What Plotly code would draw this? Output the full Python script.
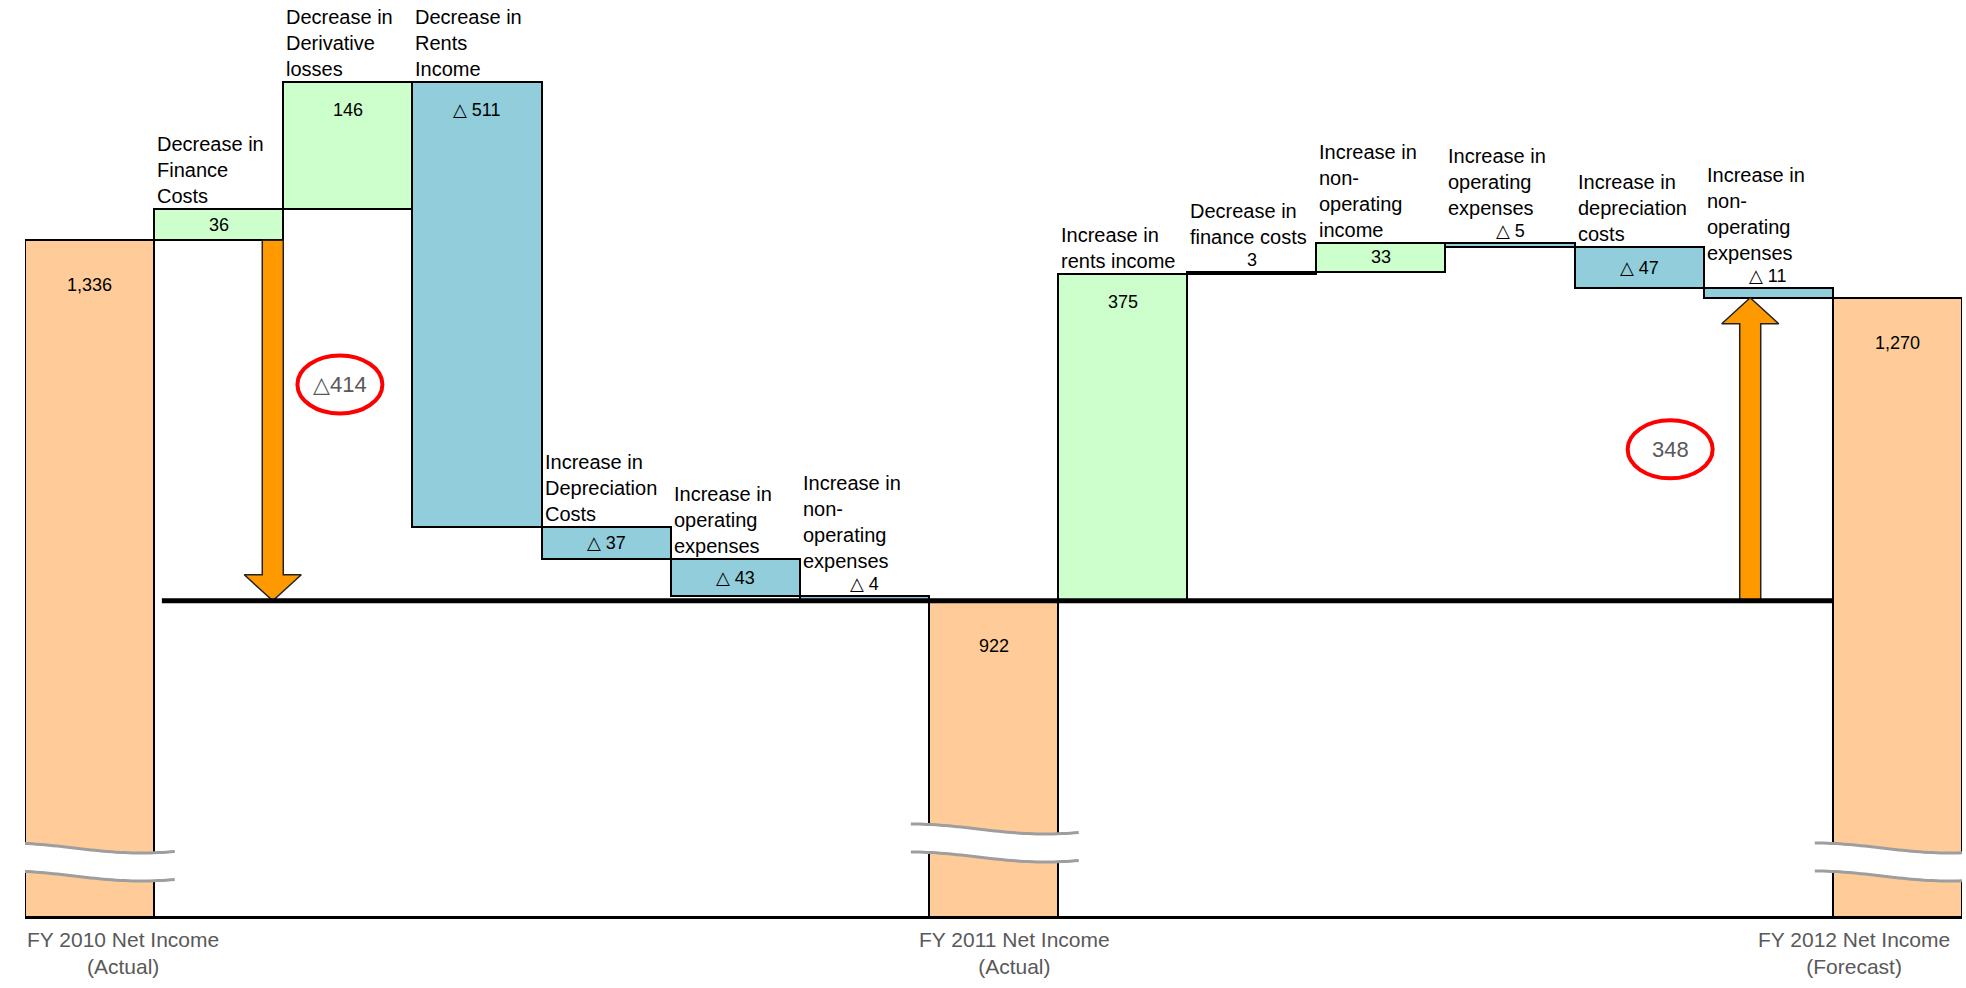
import numpy as np
import plotly.graph_objects as go

# ---------------- data ----------------
total_labels = ["FY 2010 Net Income<br>(Actual)",
                "FY 2011 Net Income<br>(Actual)",
                "FY 2012 Net Income<br>(Forecast)"]
total_values = [1336, 922, 1270]

left_step_labels = ["Decrease in<br>Finance<br>Costs",
                    "Decrease in<br>Derivative<br>losses",
                    "Decrease in<br>Rents<br>Income",
                    "Increase in<br>Depreciation<br>Costs",
                    "Increase in<br>operating<br>expenses",
                    "Increase in<br>non-<br>operating<br>expenses"]
left_step_values = [36, 146, -511, -37, -43, -4]

right_step_labels = ["Increase in<br>rents income",
                     "Decrease in<br>finance costs",
                     "Increase in<br>non-<br>operating<br>income",
                     "Increase in<br>operating<br>expenses",
                     "Increase in<br>depreciation<br>costs",
                     "Increase in<br>non-<br>operating<br>expenses"]
right_step_values = [375, 3, 33, -5, -47, -11]

# ---------------- styling / layout constants ----------------
W, H = 1966, 988
M_L, M_R, M_T, M_B = 25, 4, 0, 72
YMIN, YMAX = 560, 1612
FONT = "Liberation Sans, Arial, DejaVu Sans, sans-serif"
C_TOTAL, C_UP, C_DOWN = "#FFCC99", "#CCFFCC", "#92CDDC"
C_ARROW = "#FF9900"
TRI = "<b>\u25B3</b>"

# ---------------- build the waterfall sequence ----------------
kinds, vals, names = [], [], []
segments = [(left_step_labels, left_step_values), (right_step_labels, right_step_values), None]
for ti, tv in enumerate(total_values):
    kinds.append("total"); vals.append(tv); names.append(total_labels[ti])
    if segments[ti] is not None:
        for lab, v in zip(*segments[ti]):
            kinds.append("step"); vals.append(v); names.append(lab)

n = len(vals)
xs = list(range(n))
base, height = [], []
level = 0
for k, v in zip(kinds, vals):
    if k == "total":
        base.append(0); height.append(v); level = v
    else:
        base.append(level); height.append(v); level += v

colors = [C_TOTAL if k == "total" else (C_UP if v > 0 else C_DOWN) for k, v in zip(kinds, vals)]

def fmt(k, v):
    if k == "total":
        return f"{v:,}"
    return f"{v}" if v > 0 else f"{TRI} {abs(v)}"

PLOT_H = H - M_T - M_B
PLOT_W = W - M_L - M_R
K = PLOT_H / (YMAX - YMIN)        # px per value unit
PXC = PLOT_W / n                  # px per category unit

fig = go.Figure()
fig.add_trace(go.Bar(
    x=xs, y=height, base=base, width=1,
    marker=dict(color=colors, line=dict(color="black", width=2)),
    hoverinfo="skip", showlegend=False))

annotations = []
shapes = []
total_idx = [i for i, k in enumerate(kinds) if k == "total"]

# value + category labels
for i, (k, v, b, nm) in enumerate(zip(kinds, vals, base, names)):
    top = max(b, b + v) if k == "step" else v
    bot = min(b, b + v) if k == "step" else YMIN
    if k == "total":
        annotations.append(dict(x=i, y=top, yshift=-45, text=fmt(k, v), showarrow=False,
                                xanchor="center", yanchor="middle",
                                font=dict(family=FONT, size=18, color="black")))
        continue
    bar_px = abs(v) * K
    cat_shift = 0
    if bar_px >= 26:
        if bar_px < 60:
            annotations.append(dict(x=i, y=(top + bot) / 2, text=fmt(k, v), showarrow=False,
                                    xanchor="center", yanchor="middle",
                                    font=dict(family=FONT, size=18, color="black")))
        else:
            annotations.append(dict(x=i, y=top, yshift=-28, text=fmt(k, v), showarrow=False,
                                    xanchor="center", yanchor="middle",
                                    font=dict(family=FONT, size=18, color="black")))
    else:
        annotations.append(dict(x=i, y=top, yshift=0, text=fmt(k, v), showarrow=False,
                                xanchor="center", yanchor="bottom",
                                font=dict(family=FONT, size=18, color="black")))
        cat_shift = 22
    annotations.append(dict(x=i - 0.5, y=top, xshift=1, yshift=cat_shift, text=nm, showarrow=False,
                            xanchor="left", yanchor="bottom", align="left",
                            font=dict(family=FONT, size=20, color="black")))

# bottom labels for totals
bottom_pos = [dict(x=total_idx[0] - 0.5, xanchor="left", xshift=0),
              dict(x=total_idx[1] - 0.5, xanchor="left", xshift=-12),
              dict(x=total_idx[2] + 0.5, xanchor="right", xshift=-10)]
for j, ti in enumerate(total_idx):
    annotations.append(dict(x=bottom_pos[j]["x"], xanchor=bottom_pos[j]["xanchor"],
                            xshift=bottom_pos[j]["xshift"], y=YMIN, yanchor="top", yshift=-10,
                            text=names[ti], showarrow=False, align="center",
                            font=dict(family=FONT, size=21, color="#595959")))

# axis-break squiggles on the total bars
band_center_px = {total_idx[0]: 59, total_idx[1]: 78, total_idx[2]: 59}
t = np.linspace(0, 1, 41)
for ti in total_idx:
    xq = ti - 0.5 - 0.14 + t * 1.30
    wave = 5 * (1 - np.cos(2 * np.pi * t / 1.6))          # px, downward
    yc = YMIN + band_center_px[ti] / K
    yu = yc + (14 - wave) / K
    yl = yc + (-14 - wave) / K
    up_path = "M " + " L ".join(f"{a:.4f},{b:.3f}" for a, b in zip(xq, yu))
    lo_path = "M " + " L ".join(f"{a:.4f},{b:.3f}" for a, b in zip(xq, yl))
    band = up_path + " L " + " L ".join(f"{a:.4f},{b:.3f}" for a, b in zip(xq[::-1], yl[::-1])) + " Z"
    shapes.append(dict(type="path", xref="x", yref="y", path=band,
                       fillcolor="white", line=dict(width=0)))
    for p in (up_path, lo_path):
        shapes.append(dict(type="path", xref="x", yref="y", path=p,
                           line=dict(color="#9E9E9E", width=3)))

# thick reference line at FY2011 level
shapes.append(dict(type="line", xref="x", yref="y",
                   x0=total_idx[0] + 0.56, x1=total_idx[2] - 0.5,
                   y0=total_values[1], y1=total_values[1],
                   line=dict(color="black", width=5)))

# arrows (filled polygons in data space)
sw, hw, hh = 10.5 / PXC, 28.5 / PXC, 26 / K

def arrow(xc, y_from, y_to):
    s = 1 if y_to > y_from else -1
    hb = y_to - s * hh
    px_ = [xc - sw, xc - sw, xc - hw, xc, xc + hw, xc + sw, xc + sw, xc - sw]
    py_ = [y_from, hb, hb, y_to, hb, hb, y_from, y_from]
    fig.add_trace(go.Scatter(x=px_, y=py_, mode="lines", fill="toself",
                             fillcolor=C_ARROW, line=dict(color="#222222", width=1.5),
                             hoverinfo="skip", showlegend=False))

down_col = total_idx[0] + 1
up_col = total_idx[2] - 1
x_down = down_col + 0.5 - sw
x_up = up_col - 0.14
arrow(x_down, total_values[0], total_values[1])
arrow(x_up, total_values[1], total_values[2])

# ellipse call-outs with the net change
chg1 = total_values[1] - total_values[0]
chg2 = total_values[2] - total_values[1]
ell_w, ell_h = 85 / PXC, 58 / K
callouts = [
    (x_down + 0.52, total_values[0] + 0.4 * chg1, (f"\u25B3{abs(chg1)}" if chg1 < 0 else f"{chg1}")),
    (x_up - 0.62, total_values[1] + 0.5 * chg2, (f"\u25B3{abs(chg2)}" if chg2 < 0 else f"{chg2}")),
]
for cx, cy, txt in callouts:
    shapes.append(dict(type="circle", xref="x", yref="y",
                       x0=cx - ell_w / 2, x1=cx + ell_w / 2,
                       y0=cy - ell_h / 2, y1=cy + ell_h / 2,
                       line=dict(color="#FF0000", width=4)))
    annotations.append(dict(x=cx, y=cy, text=txt, showarrow=False,
                            xanchor="center", yanchor="middle",
                            font=dict(family=FONT, size=22, color="#595959")))

fig.update_layout(
    width=W, height=H, autosize=False,
    margin=dict(l=M_L, r=M_R, t=M_T, b=M_B, pad=0),
    paper_bgcolor="white", plot_bgcolor="white",
    bargap=0, showlegend=False, hovermode=False,
    annotations=annotations, shapes=shapes,
    xaxis=dict(range=[-0.5, n - 0.5], showgrid=False, zeroline=False,
               showticklabels=False, ticks="", showline=True,
               linecolor="black", linewidth=3, fixedrange=True),
    yaxis=dict(range=[YMIN, YMAX], visible=False, fixedrange=True),
)

fig.write_html("out.html", config={"displayModeBar": False})
